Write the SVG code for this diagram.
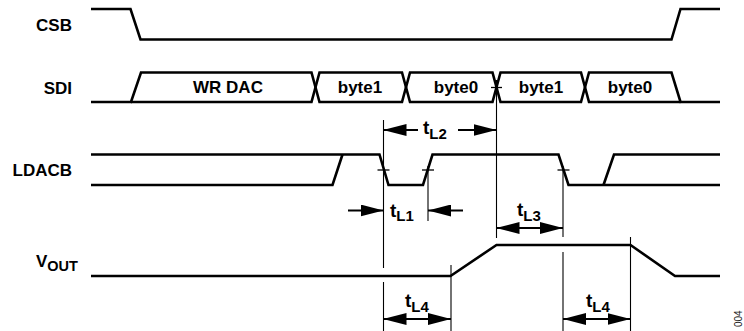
<svg xmlns="http://www.w3.org/2000/svg" width="744" height="331" viewBox="0 0 744 331">
<defs>
<marker id="ah" viewBox="0 0 23 12" refX="23" refY="6" markerWidth="23" markerHeight="12" markerUnits="userSpaceOnUse" orient="auto">
<path d="M0,0 L23,6 L0,12 z" fill="#000"/>
</marker>
<style>
.sig{fill:none;stroke:#000;stroke-width:2.6;stroke-linejoin:miter}
.tick{fill:none;stroke:#000;stroke-width:1.3}
.ref{fill:none;stroke:#000;stroke-width:1.1}
.arr{fill:none;stroke:#000;stroke-width:2;marker-end:url(#ah)}
.lbl{font-family:"Liberation Sans",Arial,sans-serif;font-weight:bold;font-size:17px;fill:#000}
.bus{font-family:"Liberation Sans",Arial,sans-serif;font-weight:bold;font-size:17px;fill:#000;text-anchor:middle}
.t{font-family:"Liberation Sans",Arial,sans-serif;font-weight:bold;font-size:19px;fill:#000}
.sub{font-size:15px}
</style>
</defs>
<rect width="744" height="331" fill="#fff"/>

<g id="csb">
<text class="lbl" x="72" y="31" text-anchor="end">CSB</text>
<path class="sig" d="M91,9 H130.5 L140.5,39.5 H671.5 L680.5,9 H720"/>
</g>

<g id="sdi">
<text class="lbl" x="72" y="94" text-anchor="end">SDI</text>
<path class="sig" d="M91,102 H131 L141,72.5 H311.5 L319.5,102 H402 L410,72.5 H492.5 L500.5,102 H581 L589,72.5 H671.5 L680.5,102 H720"/>
<path class="sig" d="M131,102 H311.5 L319.5,72.5 H402 L410,102 H492.5 L500.5,72.5 H581 L589,102 H680.5"/>
<line class="tick" x1="491" y1="87.5" x2="502" y2="87.5"/>
<text class="bus" x="228" y="92.5">WR DAC</text>
<text class="bus" x="360" y="92.5">byte1</text>
<text class="bus" x="456" y="92.5">byte0</text>
<text class="bus" x="541" y="92.5">byte1</text>
<text class="bus" x="630" y="92.5">byte0</text>
</g>

<g id="ldacb">
<text class="lbl" x="72" y="176" text-anchor="end">LDACB</text>
<path class="sig" d="M91,154.5 H379.5 L388.5,185 H423 L432.5,154.5 H558.5 L568.5,185 H720"/>
<path class="sig" d="M91,185 H332.5 L342.5,154.5"/>
<path class="sig" d="M603.5,185 L614,154.5 H720"/>
<line class="tick" x1="377.5" y1="170" x2="389.5" y2="170"/>
<line class="tick" x1="422" y1="170" x2="434" y2="170"/>
<line class="tick" x1="557.5" y1="170" x2="569.5" y2="170"/>
</g>

<g id="vout">
<text class="lbl" x="36" y="266.5" font-size="18">V<tspan font-size="14.5" dy="4">OUT</tspan></text>
<path class="sig" d="M91,276 H450.5 L496.5,245 H630.5 L675,276 H720"/>
</g>

<g id="connectors">
<line class="ref" x1="383.5" y1="120" x2="383.5" y2="268"/>
<line class="ref" x1="383.5" y1="282" x2="383.5" y2="331"/>
<line class="ref" x1="428" y1="166" x2="428" y2="221"/>
<line class="ref" x1="496.5" y1="80" x2="496.5" y2="238"/>
<line class="ref" x1="563" y1="166" x2="563" y2="237"/>
<line class="ref" x1="563" y1="252" x2="563" y2="331"/>
<line class="ref" x1="451" y1="265" x2="451" y2="331"/>
<line class="ref" x1="630.5" y1="237" x2="630.5" y2="331"/>

<line class="arr" x1="418" y1="130" x2="383.5" y2="130"/>
<line class="arr" x1="458" y1="130" x2="496.5" y2="130"/>
<text class="t" x="423" y="134">t<tspan class="sub" dy="5">L2</tspan></text>

<line class="arr" x1="348" y1="210.5" x2="383.5" y2="210.5"/>
<line class="arr" x1="463" y1="210.5" x2="428" y2="210.5"/>
<text class="t" x="390" y="216.5">t<tspan class="sub" dy="4">L1</tspan></text>

<line class="arr" x1="530" y1="228" x2="496.5" y2="228"/>
<line class="arr" x1="530" y1="228" x2="563" y2="228"/>
<text class="t" x="517" y="216">t<tspan class="sub" dy="5">L3</tspan></text>

<line class="arr" x1="417" y1="319" x2="383.5" y2="319"/>
<line class="arr" x1="417" y1="319" x2="451" y2="319"/>
<text class="t" x="405" y="307">t<tspan class="sub" dy="5">L4</tspan></text>

<line class="arr" x1="597" y1="319" x2="563" y2="319"/>
<line class="arr" x1="597" y1="319" x2="630.5" y2="319"/>
<text class="t" x="586" y="307">t<tspan class="sub" dy="5">L4</tspan></text>
</g>

<text x="742" y="327" transform="rotate(-90 742 327)" font-family="Liberation Sans Narrow, Liberation Sans, sans-serif" font-size="10" fill="#222">004</text>
</svg>
